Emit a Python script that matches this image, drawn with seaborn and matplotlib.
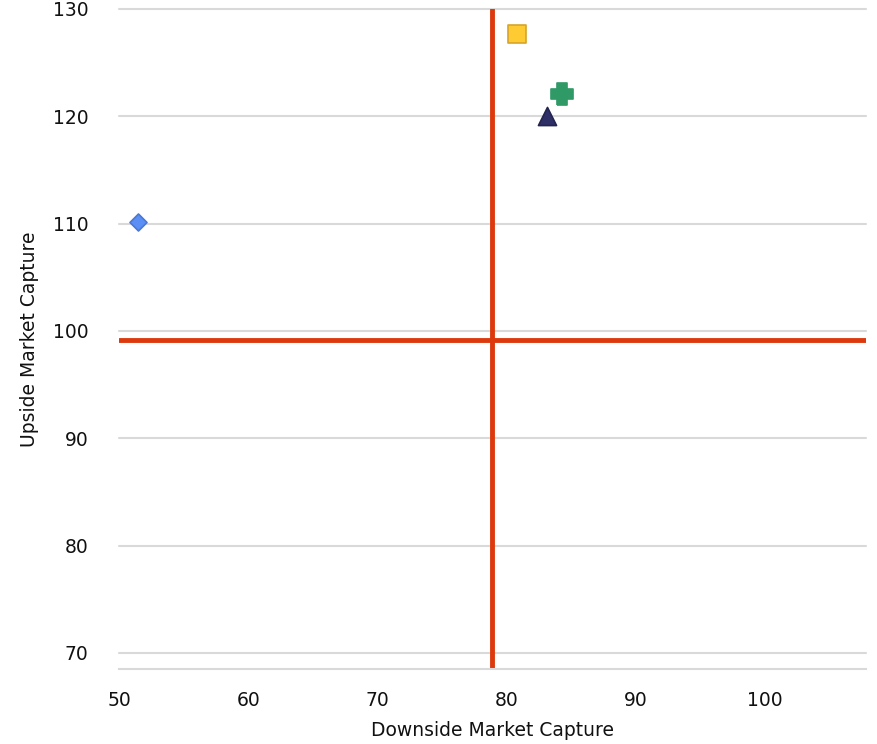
import matplotlib
matplotlib.use("Agg")
import matplotlib.pyplot as plt
import seaborn as sns
import pandas as pd

# Upside / downside capture ratios for each holding
names = ["Fund A", "Fund B", "Fund C", "Fund D"]
downside = [51.5, 80.8, 84.3, 83.1]
upside = [110.15, 127.7, 122.1, 120.0]

# Benchmark reference lines
downside_ref = 78.85
upside_ref = 99.15

y_ticks = [70, 80, 90, 100, 110, 120, 130]
x_ticks = [50, 60, 70, 80, 90, 100]

# chunky plus-shaped marker
w = 0.22
plus_marker = [(-w, -0.5), (w, -0.5), (w, -w), (0.5, -w), (0.5, w), (w, w),
               (w, 0.5), (-w, 0.5), (-w, w), (-0.5, w), (-0.5, -w), (-w, -w),
               (-w, -0.5)]

fills = {"Fund A": "#5b8ff5", "Fund B": "#ffcb32", "Fund C": "#2f9a66", "Fund D": "#2e2f66"}
edges = {"Fund A": "#4a78d6", "Fund B": "#d7a42a", "Fund C": "#2f9a66", "Fund D": "#23244f"}
markers = {"Fund A": "D", "Fund B": "s", "Fund C": plus_marker, "Fund D": "^"}
sizes = {"Fund A": 75, "Fund B": 150, "Fund C": 230, "Fund D": 170}

df = pd.DataFrame({"name": names, "down": downside, "up": upside})

sns.set_theme(style="white")
plt.rcParams["font.family"] = ["DejaVu Sans"]

fig = plt.figure(figsize=(8.78, 7.44), dpi=100)
ax = fig.add_axes([119 / 878, 1 - 669 / 744, (866 - 119) / 878, (669 - 9) / 744])

for y in y_ticks:
    ax.axhline(y, color="#d9d9d9", lw=1.5, zorder=0, clip_on=False)

ax.axvline(downside_ref, color="#dc3a0c", lw=3.5, zorder=1)
ax.axhline(upside_ref, color="#dc3a0c", lw=3.5, zorder=1)

for n in names:
    sub = df[df["name"] == n]
    sns.scatterplot(data=sub, x="down", y="up", marker=markers[n], s=sizes[n],
                    color=fills[n], edgecolor=edges[n], linewidth=1.2,
                    ax=ax, zorder=3, legend=False)

ax.set_xlim(50, 107.8)
ax.set_ylim(68.5, 130)
ax.set_xticks(x_ticks)
ax.set_yticks(y_ticks)
ax.tick_params(axis="both", length=0, labelsize=13.5, colors="#111111")
ax.tick_params(axis="x", pad=16)
ax.tick_params(axis="y", pad=22)

for s in ["top", "right", "left"]:
    ax.spines[s].set_visible(False)
ax.spines["bottom"].set_color("#d9d9d9")
ax.spines["bottom"].set_linewidth(1.5)

ax.set_xlabel("Downside Market Capture", fontsize=13.5, color="#111111", labelpad=8)
ax.set_ylabel("Upside Market Capture", fontsize=13.5, color="#111111", labelpad=10)

fig.savefig("out.png", dpi=100)
